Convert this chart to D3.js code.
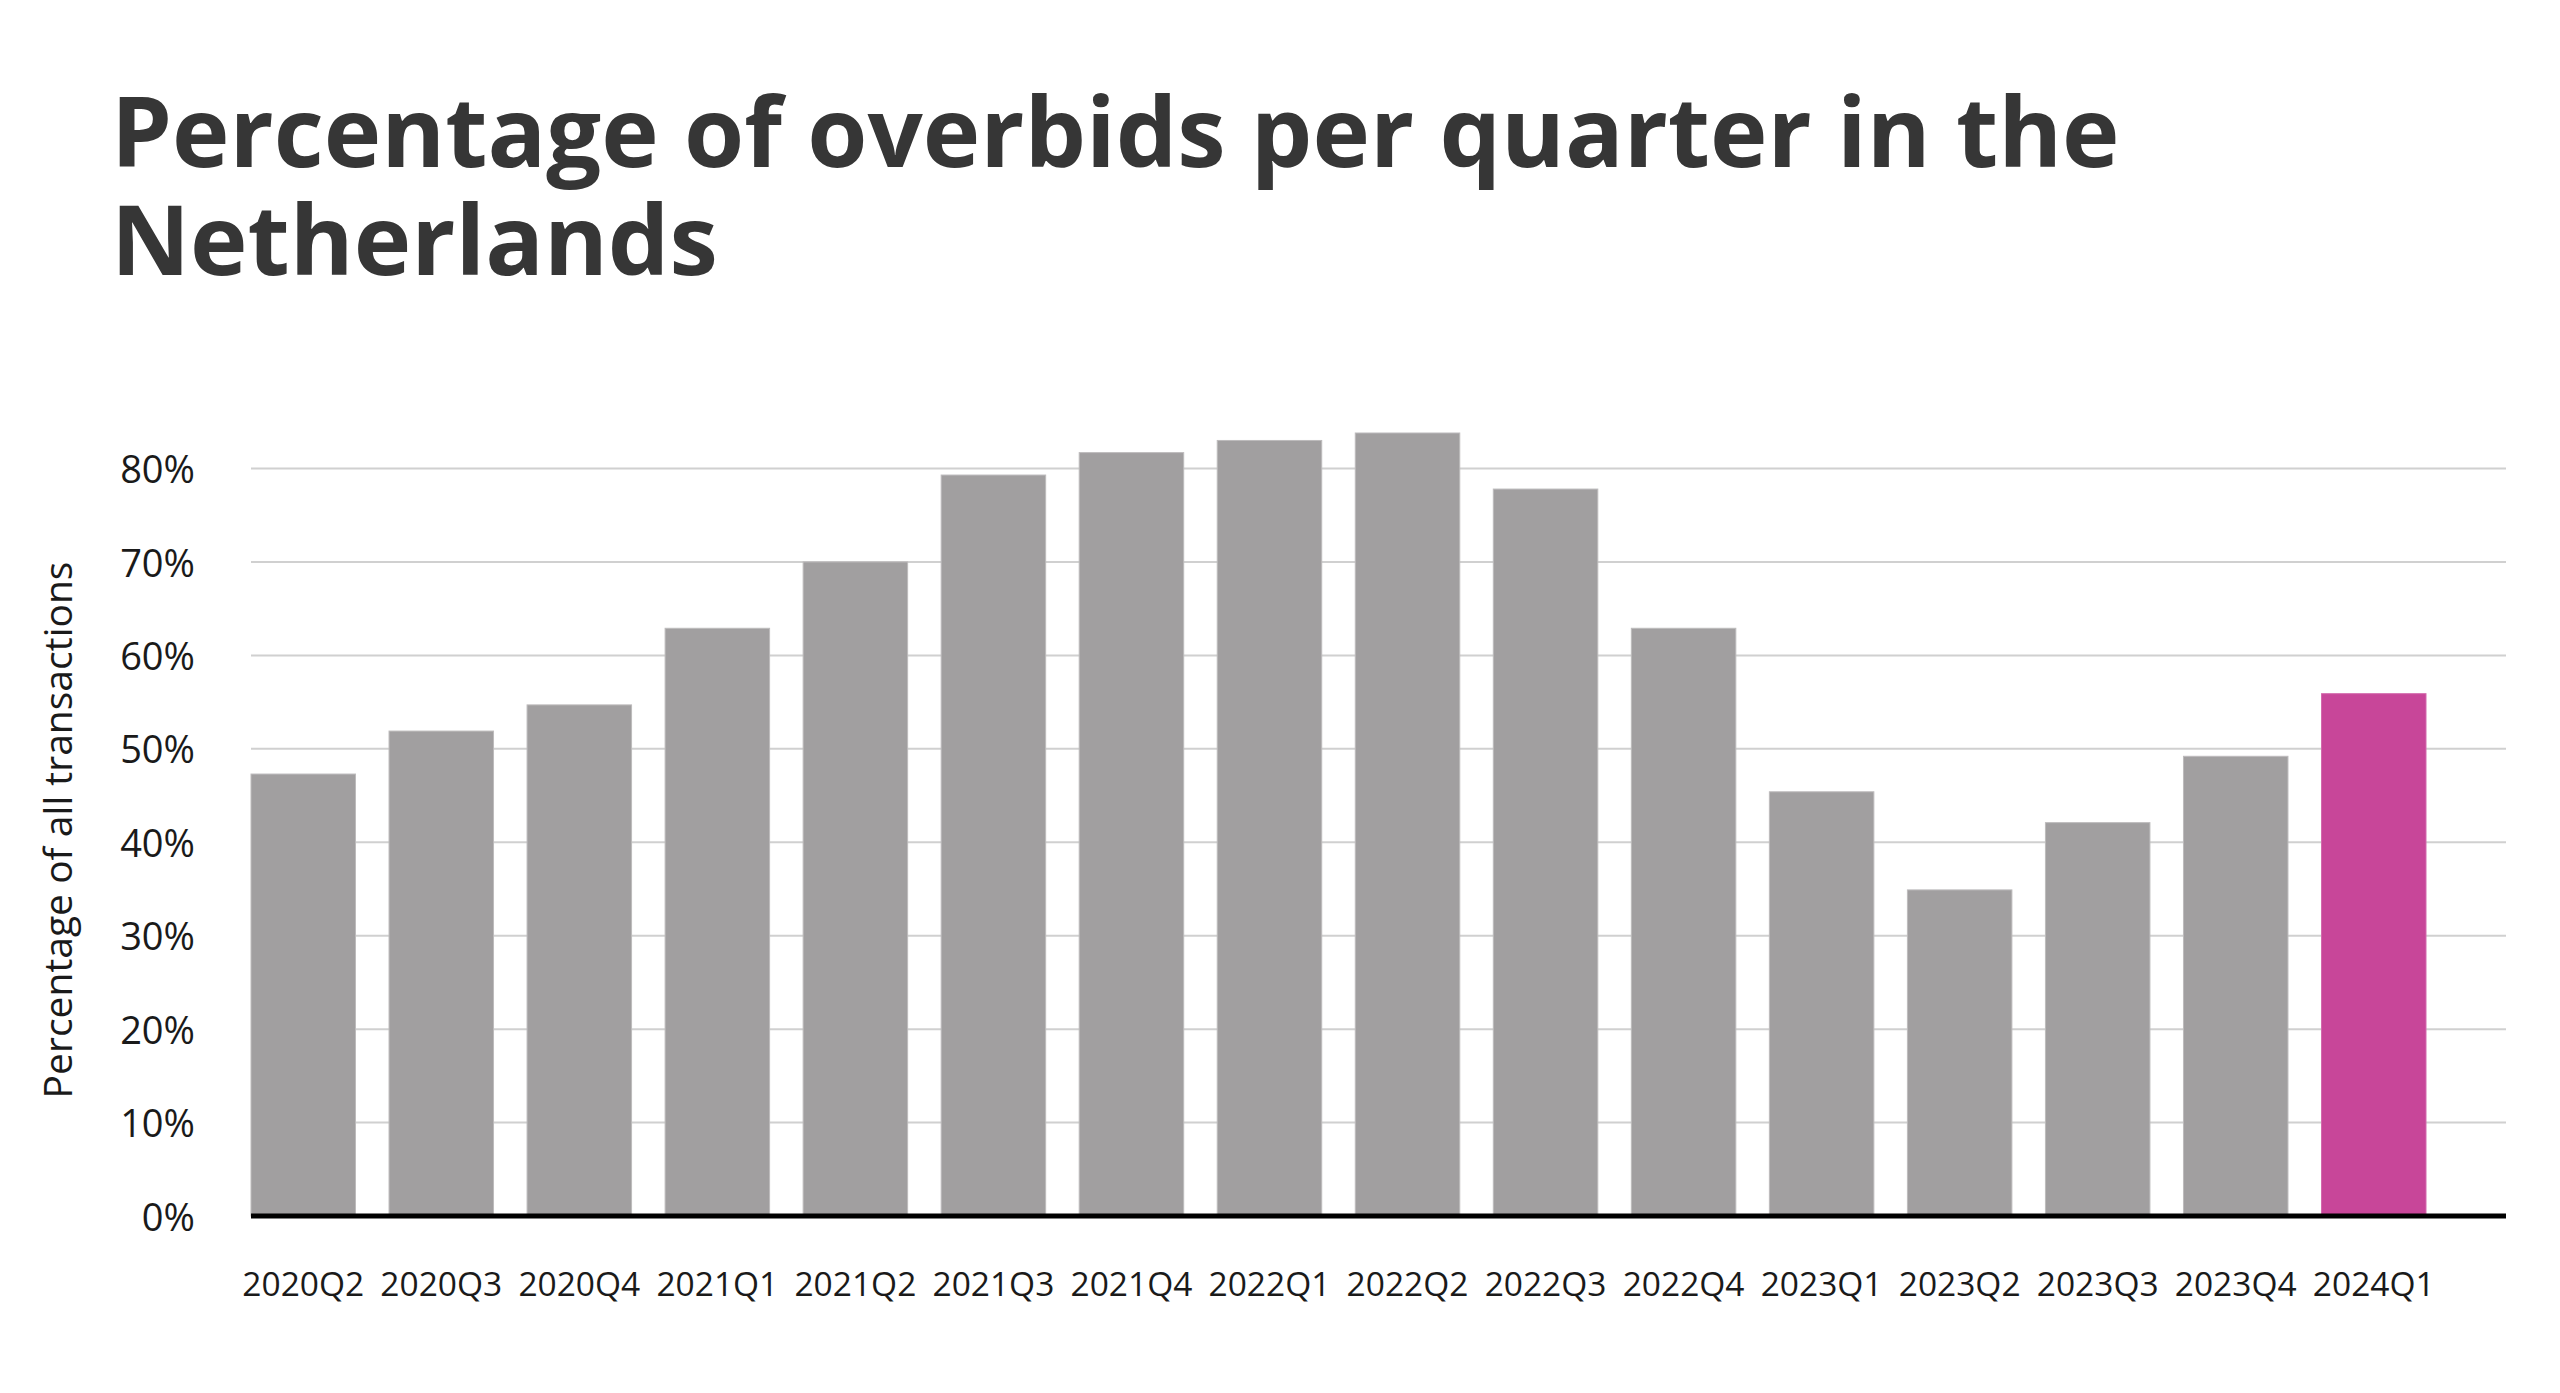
<!DOCTYPE html>
<html>
<head>
<meta charset="utf-8">
<script src="https://cdn.jsdelivr.net/npm/d3@7"></script>
<style>
  html, body { margin: 0; padding: 0; background: #ffffff; }
  svg { display: block; }
</style>
</head>
<body>
<svg id="chart" width="2560" height="1393"></svg>
<script>
const titleLines = ["Percentage of overbids per quarter in the", "Netherlands"];
const yAxisLabel = "Percentage of all transactions";
const categories = ["2020Q2","2020Q3","2020Q4","2021Q1","2021Q2","2021Q3","2021Q4","2022Q1","2022Q2","2022Q3","2022Q4","2023Q1","2023Q2","2023Q3","2023Q4","2024Q1"];
const values = [47.3, 51.9, 54.7, 62.9, 70.0, 79.3, 81.7, 83.0, 83.8, 77.8, 62.9, 45.4, 34.9, 42.1, 49.2, 55.9];
const highlighted = ["2024Q1"];
const yTicks = [0, 10, 20, 30, 40, 50, 60, 70, 80];

const svg = d3.select("#chart");
const plot = { left: 251, right: 2506, top: 430, bottom: 1216 };

const x = d3.scaleBand()
  .domain(categories)
  .range([plot.left, 2426])
  .paddingInner(0.243)
  .paddingOuter(0);

const y = d3.scaleLinear()
  .domain([0, 80])
  .range([plot.bottom, 468.5]);

// title (one text element, two lines)
const title = svg.append("text")
  .attr("font-family", "'Open Sans', sans-serif")
  .attr("font-weight", 700)
  .attr("font-size", 97.3)
  .attr("fill", "#363636");
title.selectAll("tspan")
  .data(titleLines)
  .join("tspan")
  .attr("x", 111)
  .attr("y", (d, i) => 167 + i * 108)
  .text(d => d);

// gridlines
svg.append("g").selectAll("line")
  .data(yTicks.filter(d => d > 0))
  .join("line")
  .attr("x1", plot.left)
  .attr("x2", plot.right)
  .attr("y1", d => y(d))
  .attr("y2", d => y(d))
  .attr("stroke", "#d0d0d0")
  .attr("stroke-width", 2);

// bars
svg.append("g").selectAll("rect")
  .data(categories)
  .join("rect")
  .attr("x", d => x(d))
  .attr("width", x.bandwidth())
  .attr("y", (d, i) => y(values[i]))
  .attr("height", (d, i) => y(0) - y(values[i]))
  .attr("fill", d => highlighted.includes(d) ? "#c84699" : "#a19fa0")
  .attr("stroke", d => highlighted.includes(d) ? "#d36aad" : "#bdbbbc")
  .attr("stroke-width", 1);

// baseline
svg.append("line")
  .attr("x1", plot.left)
  .attr("x2", plot.right)
  .attr("y1", y(0))
  .attr("y2", y(0))
  .attr("stroke", "#000000")
  .attr("stroke-width", 5);

// y axis
const yAxis = d3.axisLeft(y)
  .tickValues(yTicks)
  .tickFormat(d => d + "%")
  .tickSize(0)
  .tickPadding(0);
const gy = svg.append("g")
  .attr("transform", `translate(195,2)`)
  .call(yAxis);
gy.select(".domain").remove();
gy.selectAll("text")
  .attr("font-family", "'Open Sans', sans-serif")
  .attr("font-size", 38)
  .attr("fill", "#1a1a1a");

// x axis
const xAxis = d3.axisBottom(x).tickSize(0).tickPadding(0);
const gx = svg.append("g")
  .attr("transform", `translate(0,1284)`)
  .call(xAxis);
gx.select(".domain").remove();
gx.selectAll("text")
  .attr("dy", "0.35em")
  .attr("y", 0)
  .attr("font-family", "'Open Sans', sans-serif")
  .attr("font-size", 33.5)
  .attr("fill", "#1a1a1a");

// y axis label
svg.append("text")
  .attr("transform", `translate(72, 830) rotate(-90)`)
  .attr("text-anchor", "middle")
  .attr("font-family", "'Open Sans', sans-serif")
  .attr("font-size", 39)
  .attr("fill", "#1a1a1a")
  .text(yAxisLabel);
</script>
</body>
</html>
